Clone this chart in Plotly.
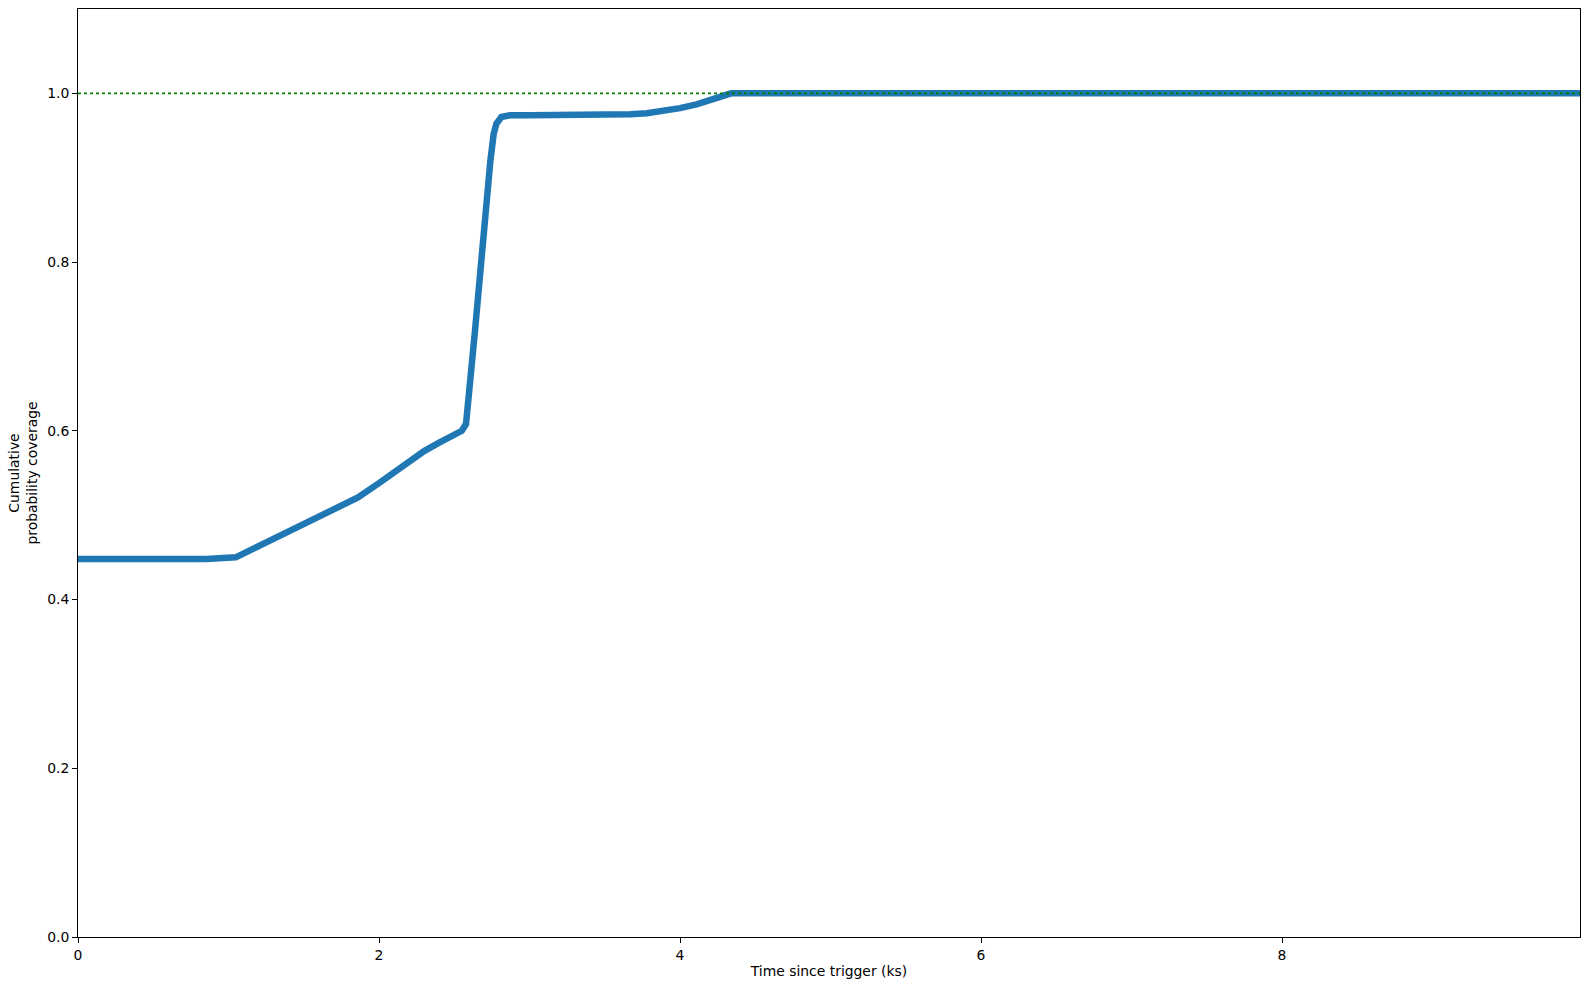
import plotly.graph_objects as go

time_ks = [0, 0.85, 1.048, 1.86, 2.0, 2.1, 2.2, 2.3, 2.4, 2.5, 2.55, 2.578, 2.60,
           2.636, 2.676, 2.713, 2.74, 2.762, 2.78, 2.813, 2.87, 3.0, 3.2,
           3.4, 3.55, 3.67, 3.78, 3.89, 4.0, 4.11, 4.2, 4.27, 4.34, 9.98]
coverage = [0.448, 0.448, 0.450, 0.521, 0.538, 0.551, 0.564, 0.576, 0.586, 0.595, 0.600,
            0.608, 0.644, 0.715, 0.794, 0.873, 0.920, 0.952, 0.964, 0.972, 0.974,
            0.974, 0.974, 0.9742, 0.9746, 0.9752, 0.9765, 0.979, 0.9825, 0.987,
            0.9915, 0.996, 1.0, 1.0]
ref_level = 1.0
x_range = [0, 9.98]
y_range = [0, 1.1]
x_ticks = [0, 2, 4, 6, 8]
y_ticks = [0.0, 0.2, 0.4, 0.6, 0.8, 1.0]

font = dict(family="DejaVu Sans", size=13.9, color="black")

fig = go.Figure()
fig.add_trace(go.Scatter(x=time_ks, y=coverage, mode="lines",
                         line=dict(color="#1f77b4", width=6.5),
                         showlegend=False, hoverinfo="skip"))
fig.add_trace(go.Scatter(x=x_range, y=[ref_level, ref_level], mode="lines",
                         line=dict(color="green", width=1.6, dash="dot"),
                         showlegend=False, hoverinfo="skip"))

axis_common = dict(showline=True, mirror=True, linecolor="black", linewidth=1,
                   ticks="outside", ticklen=5, tickwidth=1, tickcolor="black",
                   showgrid=False, zeroline=False, tickfont=font)

fig.update_layout(
    width=1589, height=989,
    margin=dict(l=78, r=9, t=9, b=52, autoexpand=False),
    paper_bgcolor="white", plot_bgcolor="white",
    font=font,
    xaxis=dict(range=x_range, tickvals=x_ticks, ticktext=[str(v) for v in x_ticks],
               title=dict(text="Time since trigger (ks)", font=font, standoff=4),
               **axis_common),
    yaxis=dict(range=y_range, tickvals=y_ticks, ticktext=[f"{v:.1f}" for v in y_ticks],
               title=dict(text="Cumulative<br>probability coverage", font=font, standoff=6),
               **axis_common),
)
fig.write_html("out.html", config={"displayModeBar": False},
               post_script="document.body.style.margin='0';document.body.style.overflow='hidden';")
